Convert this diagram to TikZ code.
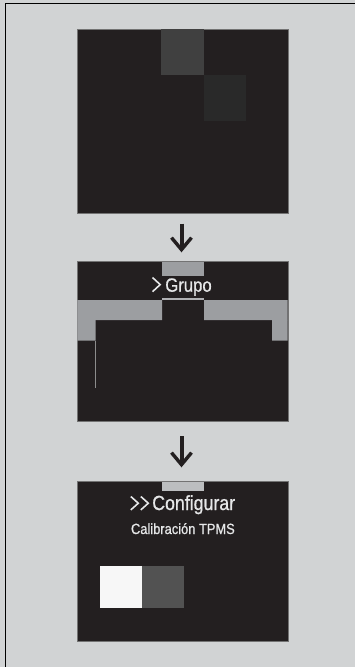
\documentclass[tikz,border=0pt]{standalone}
\usepackage{fontspec}
\usepackage{tikz}
\usetikzlibrary{arrows.meta}
\newfontfamily\dinfont[FakeStretch=0.87,FakeBold=0.8]{Liberation Sans}
\definecolor{pagegrey}{HTML}{D1D3D4}
\definecolor{screendark}{HTML}{231F20}
\definecolor{bandgrey}{HTML}{9C9EA1}
\definecolor{tablight}{HTML}{BCBEC0}
\definecolor{textwhite}{HTML}{E6E7E8}

\begin{document}
\begin{tikzpicture}[
        x=1pt, y=-1pt,
        screen/.style={draw=black!55, line width=0.5pt, fill=screendark, inner sep=0pt, anchor=north west},
        step_arrow/.style={draw=screendark, line width=4pt, -{Straight Barb[length=12pt, width=20pt, line width=3.4pt]}},
        menu_text/.style={text=textwhite, inner sep=0pt, anchor=base, font=\dinfont},
        chevron/.style={draw=textwhite, line width=1.6pt}
    ]
    \useasboundingbox (0,0) rectangle (355,667);
    \fill[pagegrey] (0,0) rectangle (355,667);
    \draw[line width=1pt] (5,667) -- (5,3) -- (355,3);

    % screens
    \node[screen, minimum width=211pt, minimum height=183.6pt] (scr1) at (77,29) {};
    \node[screen, minimum width=210.4pt, minimum height=160pt] (scr2) at (77.3,261.3) {};
    \node[screen, minimum width=210.4pt, minimum height=160pt] (scr3) at (77.3,481.3) {};

    % first screen
    \fill[black!75] (161,29.3) rectangle (204,75);
    \fill[black!84] (204,75) rectangle (246,120.7);

    % second screen
    \fill[bandgrey] (162,261.6) rectangle (204,275.7);
    \fill[bandgrey] (77.3,300) rectangle (162,320) (204,300) rectangle (287.7,320);
    \fill[bandgrey] (77.3,320) rectangle (95.7,340.7) (272,320) rectangle (287.7,340.7);
    \draw[bandgrey!80!white, line width=1.3pt] (162,299) -- (204,299);
    \draw[black!45, line width=0.6pt] (95.5,340.7) -- (95.5,387.7);
    \draw[chevron] (152.5,277.5) -- (160.2,284.6) -- (152.5,291.7);
    \node[menu_text, font=\dinfont\fontsize{19.2}{20}\selectfont] (grupo) at (188.5,291.7) {Grupo};

    % third screen
    \fill[tablight] (162,481.6) rectangle (204,491);
    \draw[chevron] (130.8,496.5) -- (138.3,503.2) -- (130.8,509.9)
                   (140.8,496.5) -- (148.3,503.2) -- (140.8,509.9);
    \node[menu_text, font=\dinfont\fontsize{20.4}{22}\selectfont] (config) at (193.7,510) {Configurar};
    \node[menu_text, font=\dinfont\fontsize{14.8}{16}\selectfont] (calib) at (182.9,534) {Calibración TPMS};
    \fill[white!97!black] (100,566) rectangle (142,607.7);
    \fill[black!68] (142,566) rectangle (184,607.7);

    % arrows
    \draw[step_arrow, shorten <=10.5pt, shorten >=9pt] (scr1.south -| 181.5,0) -- (scr2.north -| 181.5,0);
    \draw[step_arrow, shorten <=14.5pt, shorten >=14pt] (scr2.south -| 181.5,0) -- (scr3.north -| 181.5,0);
\end{tikzpicture}
\end{document}
